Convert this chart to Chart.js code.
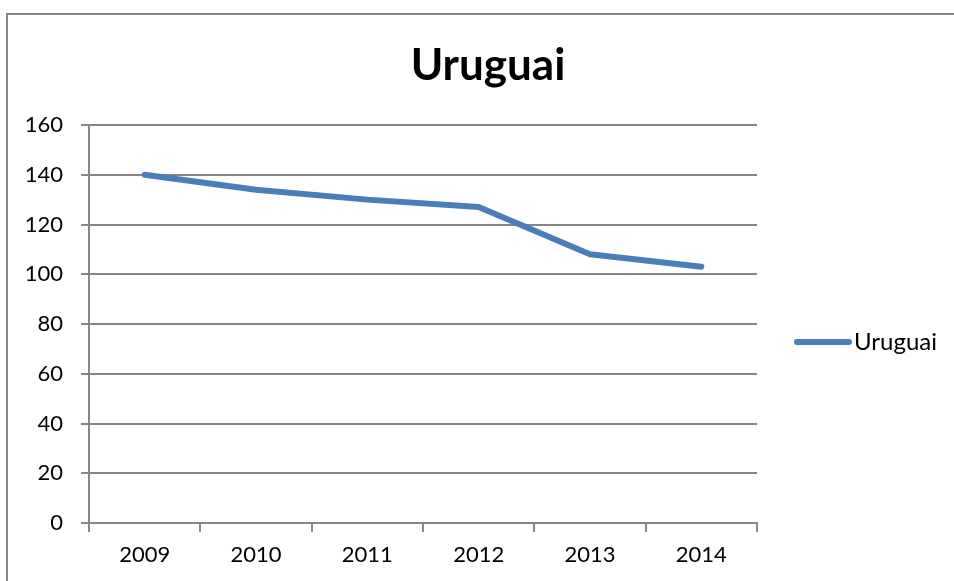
<!DOCTYPE html>
<html>
<head>
<meta charset="utf-8">
<script src="https://cdn.jsdelivr.net/npm/chart.js@4/dist/chart.umd.min.js"></script>
<style>
  html, body { margin: 0; padding: 0; background: #ffffff; overflow: hidden; }
  #wrap { width: 954px; height: 581px; position: relative; }
</style>
</head>
<body>
<div id="wrap"><canvas id="c" width="954" height="581"></canvas></div>
<script>
// Series data
const chartTitle = 'Uruguai';
const years = ['2009', '2010', '2011', '2012', '2013', '2014'];
const uruguaiValues = [140, 134, 130, 127, 108, 103];
const yTicks = [0, 20, 40, 60, 80, 100, 120, 140, 160];

const FONT = 'Lato, "Open Sans", sans-serif';
const GRID = '#868686';
const LINE = '#4A7EBB';

// Frame, title and legend drawn around the plot area
const decorations = {
  id: 'decorations',
  afterDraw(chart) {
    const ctx = chart.ctx;
    ctx.save();
    // outer frame (top and left edges; the rest runs off the canvas)
    ctx.strokeStyle = GRID;
    ctx.lineWidth = 2;
    ctx.beginPath();
    ctx.moveTo(7, 600);
    ctx.lineTo(7, 14);
    ctx.lineTo(1000, 14);
    ctx.stroke();
    // title
    ctx.fillStyle = '#000000';
    ctx.font = 'bold 44px ' + FONT;
    ctx.textAlign = 'center';
    ctx.textBaseline = 'alphabetic';
    ctx.fillText(chartTitle, 488, 80);
    // legend
    const ds = chart.data.datasets[0];
    ctx.strokeStyle = ds.borderColor;
    ctx.lineWidth = 6;
    ctx.lineCap = 'round';
    ctx.beginPath();
    ctx.moveTo(797, 342);
    ctx.lineTo(849, 342);
    ctx.stroke();
    ctx.fillStyle = '#000000';
    ctx.font = '24px ' + FONT;
    ctx.textAlign = 'left';
    ctx.textBaseline = 'middle';
    ctx.fillText(ds.label, 854, 342);
    ctx.restore();
  }
};

new Chart(document.getElementById('c'), {
  type: 'line',
  data: {
    labels: years,
    datasets: [{
      label: 'Uruguai',
      data: uruguaiValues,
      borderColor: LINE,
      backgroundColor: LINE,
      borderWidth: 6,
      borderCapStyle: 'round',
      borderJoinStyle: 'round',
      pointRadius: 0,
      tension: 0,
      fill: false
    }]
  },
  options: {
    responsive: false,
    animation: false,
    layout: { padding: { left: 0, right: 197, top: 125, bottom: 0 } },
    plugins: {
      legend: { display: false },
      title: { display: false },
      tooltip: { enabled: false }
    },
    scales: {
      x: {
        type: 'category',
        offset: true,
        afterFit(scale) { scale.height = 58; },
        grid: {
          offset: true,
          drawOnChartArea: false,
          drawTicks: true,
          tickLength: 9,
          color: GRID,
          lineWidth: 2
        },
        border: { display: true, color: GRID, width: 2 },
        ticks: {
          color: '#000000',
          font: { family: FONT, size: 22 },
          padding: 10,
          maxRotation: 0
        }
      },
      y: {
        min: 0,
        max: 160,
        afterFit(scale) { scale.width = 89; },
        afterBuildTicks(scale) { scale.ticks = yTicks.map(v => ({ value: v })); },
        grid: {
          color: GRID,
          lineWidth: 2,
          drawTicks: true,
          tickLength: 8
        },
        border: { display: true, color: GRID, width: 2 },
        ticks: {
          color: '#000000',
          font: { family: FONT, size: 22 },
          padding: 18
        }
      }
    }
  },
  plugins: [decorations]
});
</script>
</body>
</html>
